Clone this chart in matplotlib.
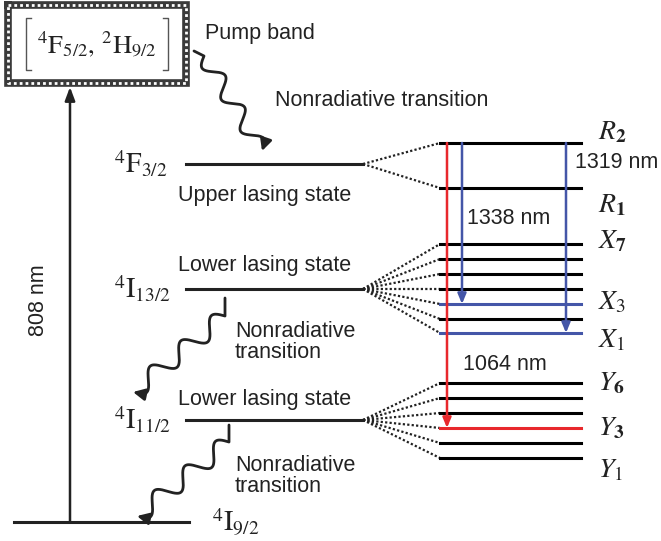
import numpy as np
import matplotlib.pyplot as plt

plt.rcParams['font.family'] = ['Liberation Sans', 'DejaVu Sans']
plt.rcParams['mathtext.fontset'] = 'stix'

# manifold levels (left side): label, y (pixel rows, top = 0)
manifolds = ['$^4\\mathrm{F}_{3/2}$', '$^4\\mathrm{I}_{13/2}$', '$^4\\mathrm{I}_{11/2}$']
manifold_y = [164, 289, 420]
ground_label = '$^4\\mathrm{I}_{9/2}$'
ground_y = 522
pump_top = 85

# Stark sublevels (right side)
r_levels = [143, 188]                                  # R2, R1
x_levels = [244, 259, 274, 289, 304, 319, 333]         # X7 ... X1
y_levels = [383, 398, 413, 428, 443, 458]              # Y6 ... Y1
x_colors = ['k', 'k', 'k', 'k', 'blue', 'k', 'blue']
y_colors = ['k', 'k', 'k', 'red', 'k', 'k']

# laser transitions: x position, y from, y to, colour
trans_x = [447, 462, 566]
trans_from = [143, 143, 143]
trans_to = [428, 304, 333]
trans_col = ['red', 'blue', 'blue']

RED = '#e8282c'
BLUE = '#4456a8'
cmap = {'k': 'black', 'red': RED, 'blue': BLUE}

fig = plt.figure(figsize=(6.61, 5.41), dpi=100)
ax = fig.add_axes([0, 0, 1, 1])
ax.set_xlim(0, 661)
ax.set_ylim(541, 0)
ax.axis('off')

txt = '#222222'
fs = 15.5
fsym = 20


def squiggle(p0, p1, n_waves, amp, lead=None):
    # wavy nonradiative arrow from p0 to p1
    p0 = np.array(p0, float)
    p1 = np.array(p1, float)
    pts = []
    if lead is not None:
        pts.append(np.array(lead, float))
    d = p1 - p0
    L = np.hypot(*d)
    u = d / L
    nrm = np.array([-u[1], u[0]])
    t = np.linspace(0, 1, 240)
    for ti in t:
        pts.append(p0 + d * ti + nrm * amp * np.sin(2 * np.pi * n_waves * ti))
    pts = np.array(pts)
    ax.plot(pts[:-8, 0], pts[:-8, 1], color='#222222', lw=2.0, solid_capstyle='round')
    ax.annotate('', xy=pts[-1], xytext=pts[-12],
                arrowprops=dict(arrowstyle='-|>,head_length=0.7,head_width=0.35',
                                color='#222222', lw=2.0, shrinkA=0, shrinkB=0))


# pump band box
box_x = [8, 186, 186, 8, 8]
box_y = [5, 5, 83, 83, 5]
ax.plot(box_x, box_y, color='#3a3a3a', lw=5.5, solid_joinstyle='miter')
ax.plot(box_x, box_y, color='white', lw=2.0, ls=(0, (1, 1.1)))
ax.plot([31, 26, 26, 31], [18, 18, 70, 70], color='#555555', lw=1.0)
ax.plot([163, 168, 168, 163], [18, 18, 70, 70], color='#555555', lw=1.0)
ax.text(97, 44, r'$^4\mathrm{F}_{5/2},\,^2\mathrm{H}_{9/2}$',
        fontsize=19, ha='center', va='center', color=txt)

# ground state and pump arrow
ax.plot([14, 189], [ground_y, ground_y], color='#222222', lw=2.2)
ax.annotate('', xy=(70, pump_top + 2), xytext=(70, ground_y),
            arrowprops=dict(arrowstyle='-|>,head_length=0.8,head_width=0.3',
                            color='#222222', lw=1.8, shrinkA=0, shrinkB=0))
ax.text(38, 300, '808 nm', rotation=90, fontsize=fs, ha='center', va='center', color=txt)
ax.text(212, 522, ground_label, fontsize=fsym, ha='left', va='center', color=txt)

# manifolds
for lab, y in zip(manifolds, manifold_y):
    ax.plot([186, 363], [y, y], color='#222222', lw=2.2)
    ax.text(114, y, lab, fontsize=fsym, ha='left', va='center', color=txt)

ax.text(178, 195, 'Upper lasing state', fontsize=fs, ha='left', va='center', color=txt)
ax.text(178, 266, 'Lower lasing state', fontsize=fs, ha='left', va='center', color=txt)
ax.text(178, 399, 'Lower lasing state', fontsize=fs, ha='left', va='center', color=txt)
ax.text(205, 33, 'Pump band', fontsize=fs, ha='left', va='center', color=txt)
ax.text(275, 101, 'Nonradiative transition', fontsize=fs, ha='left', va='center', color=txt)
ax.text(235, 342, 'Nonradiative\ntransition', fontsize=fs, ha='left', va='center',
        color=txt, linespacing=1.05)
ax.text(235, 476, 'Nonradiative\ntransition', fontsize=fs, ha='left', va='center',
        color=txt, linespacing=1.05)

# stark levels and dotted fans
groups = [(r_levels, ['k', 'k'], manifold_y[0]),
          (x_levels, x_colors, manifold_y[1]),
          (y_levels, y_colors, manifold_y[2])]
for levels, cols, ym in groups:
    for y, c in zip(levels, cols):
        ax.plot([363, 440], [ym, y], color='#222222', lw=1.6, ls=(0, (1, 1)))
        ax.plot([440, 581], [y, y], color=cmap[c], lw=2.2)

# laser transitions
for x, y0, y1, c in zip(trans_x, trans_from, trans_to, trans_col):
    ax.annotate('', xy=(x, y1), xytext=(x, y0),
                arrowprops=dict(arrowstyle='-|>,head_length=0.6,head_width=0.25',
                                color=cmap[c], lw=1.8, shrinkA=0, shrinkB=0))

ax.text(575, 163, '1319 nm', fontsize=fs, ha='left', va='center', color=txt)
ax.text(467, 218, '1338 nm', fontsize=fs, ha='left', va='center', color=txt)
ax.text(463, 364, '1064 nm', fontsize=fs, ha='left', va='center', color=txt)

# sublevel labels
side = [('$R_{\\mathbf{2}}$', 132), ('$R_{\\mathbf{1}}$', 205), ('$X_{\\mathbf{7}}$', 241),
        ('$X_{3}$', 302), ('$X_{1}$', 340), ('$Y_{\\mathbf{6}}$', 383),
        ('$Y_{\\mathbf{3}}$', 428), ('$Y_{1}$', 470)]
for lab, y in side:
    ax.text(598, y, lab, fontsize=fsym, ha='left', va='center', color=txt)

# nonradiative wavy arrows
squiggle((204, 56), (262, 151), 3.0, 8, lead=(194, 51))
squiggle((225, 316), (133, 392), 3.0, 9, lead=(225, 298))
squiggle((229, 442), (137, 516), 3.0, 9, lead=(229, 425))

fig.savefig('out.png', dpi=100)
